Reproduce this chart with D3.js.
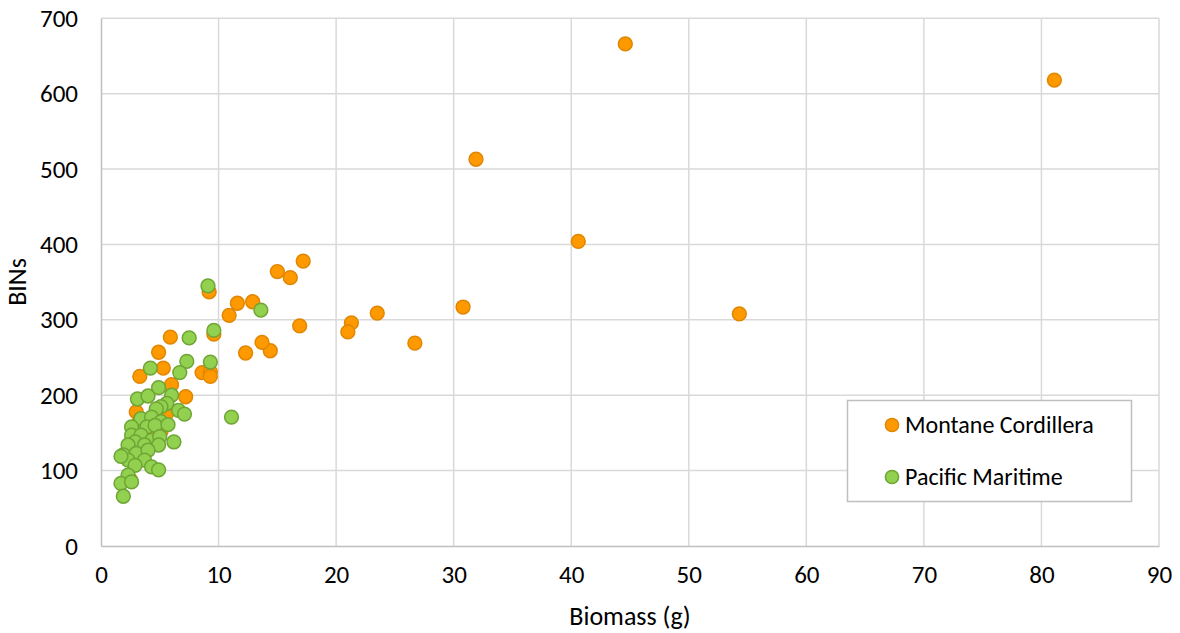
<!DOCTYPE html>
<html>
<head>
<meta charset="utf-8">
<script src="https://cdn.jsdelivr.net/npm/d3@7"></script>
<style>
  body { margin: 0; background: #fff; }
  text { font-family: Carlito, Calibri, Lato, "Open Sans", sans-serif; fill: #000; }
</style>
</head>
<body>
<svg id="chart"></svg>
<script>
// Montane Cordillera: biomass (g), BINs
var montaneBiomass = [44.6, 81.1, 31.9, 40.6, 54.3, 30.8, 26.7, 23.5, 21.3, 21.0,
  16.9, 17.2, 16.1, 15.0, 14.4, 13.7, 12.9, 11.6, 12.3, 10.9,
  9.2, 9.6, 5.9, 4.9, 5.3, 3.3, 8.6, 9.3, 9.3, 6.0,
  7.2, 3.0, 5.1, 2.5, 3.3, 4.5, 5.6, 3.8, 2.8]
var montaneBINs = [666, 618, 513, 404, 308, 317, 269, 309, 296, 284,
  292, 378, 356, 364, 259, 270, 324, 322, 256, 306,
  337, 281, 277, 257, 236, 225, 230, 231, 225, 214,
  198, 178, 152, 88, 168, 150, 176, 130, 115]

// Pacific Maritime: biomass (g), BINs
var pacificBiomass = [9.1, 7.5, 9.6, 4.2, 7.3, 6.7, 9.3, 4.9, 3.1, 4.0,
  6.0, 5.6, 5.1, 4.7, 6.6, 7.1, 6.2, 3.4, 4.3, 5.1,
  3.9, 4.6, 5.7, 2.6, 2.6, 3.4, 4.3, 5.0, 2.9, 3.7,
  2.3, 4.9, 1.9, 3.0, 4.0, 2.3, 3.7, 2.9, 4.3, 4.9,
  2.3, 1.7, 2.6, 1.9, 13.6, 11.1, 1.7]
var pacificBINs = [345, 276, 286, 236, 245, 230, 244, 210, 195, 199,
  200, 189, 185, 182, 180, 175, 138, 169, 171, 165,
  158, 160, 161, 158, 147, 147, 140, 145, 138, 134,
  134, 134, 121, 123, 127, 114, 114, 107, 105, 101,
  94, 83, 85, 66, 313, 171, 119]

var xTicks = [0, 10, 20, 30, 40, 50, 60, 70, 80, 90]
var yTicks = [0, 100, 200, 300, 400, 500, 600, 700]
var seriesNames = ["Montane Cordillera", "Pacific Maritime"]

var width = 1180
var height = 633

var svg = d3.select("#chart")
    .attr("width", width)
    .attr("height", height)

var x = d3.scaleLinear().domain([0, 90]).range([101, 1159])
var y = d3.scaleLinear().domain([0, 700]).range([546, 18.3])

var colors = [
  {fill: "#FF9900", stroke: "#E08600"},
  {fill: "#92D050", stroke: "#6FA534"}
]

// gridlines
svg.append("g")
    .selectAll("line")
    .data(yTicks.filter(d => d > 0))
    .enter()
    .append("line")
    .attr("x1", x(0)).attr("x2", x(90))
    .attr("y1", d => y(d)).attr("y2", d => y(d))
    .attr("stroke", "#D9D9D9")
    .attr("stroke-width", 1.5)

svg.append("g")
    .selectAll("line")
    .data(xTicks.filter(d => d > 0))
    .enter()
    .append("line")
    .attr("x1", d => x(d)).attr("x2", d => x(d))
    .attr("y1", y(0)).attr("y2", y(700))
    .attr("stroke", "#D9D9D9")
    .attr("stroke-width", 1.5)

// axes
var xAxis = svg.append("g")
    .attr("transform", "translate(0," + y(0) + ")")
    .call(d3.axisBottom(x).tickValues(xTicks).tickSize(0).tickPadding(19))
var yAxis = svg.append("g")
    .attr("transform", "translate(" + x(0) + ",0)")
    .call(d3.axisLeft(y).tickValues(yTicks).tickSize(0).tickPadding(23))

xAxis.select(".domain").attr("stroke", "#BFBFBF").attr("stroke-width", 1.5)
yAxis.select(".domain").attr("stroke", "#BFBFBF").attr("stroke-width", 1.5)
svg.selectAll(".tick text").attr("font-size", 25).attr("font-family", null)

svg.append("text")
    .attr("x", 630).attr("y", 625)
    .attr("text-anchor", "middle")
    .attr("font-size", 26)
    .text("Biomass (g)")

svg.append("text")
    .attr("transform", "translate(26,282) rotate(-90)")
    .attr("text-anchor", "middle")
    .attr("font-size", 26)
    .text("BINs")

// points
var montane = montaneBiomass.map((d, i) => ({x: d, y: montaneBINs[i]}))
var pacific = pacificBiomass.map((d, i) => ({x: d, y: pacificBINs[i]}))

;[montane, pacific].forEach(function(data, k) {
  svg.append("g")
      .selectAll("circle")
      .data(data)
      .enter()
      .append("circle")
      .attr("cx", d => x(d.x))
      .attr("cy", d => y(d.y))
      .attr("r", 6.9)
      .attr("fill", colors[k].fill)
      .attr("stroke", colors[k].stroke)
      .attr("stroke-width", 1.5)
})

// legend
var legend = svg.append("g")
legend.append("rect")
    .attr("x", 847.5).attr("y", 400.5)
    .attr("width", 284).attr("height", 101)
    .attr("fill", "#fff")
    .attr("stroke", "#BFBFBF")
    .attr("stroke-width", 1.5)

seriesNames.forEach(function(name, k) {
  var cy = 425 + k * 52
  legend.append("circle")
      .attr("cx", 892).attr("cy", cy)
      .attr("r", 6.6)
      .attr("fill", colors[k].fill)
      .attr("stroke", colors[k].stroke)
      .attr("stroke-width", 1.5)
  legend.append("text")
      .attr("x", 905).attr("y", cy + 8)
      .attr("font-size", 24)
      .text(name)
})
</script>
</body>
</html>
